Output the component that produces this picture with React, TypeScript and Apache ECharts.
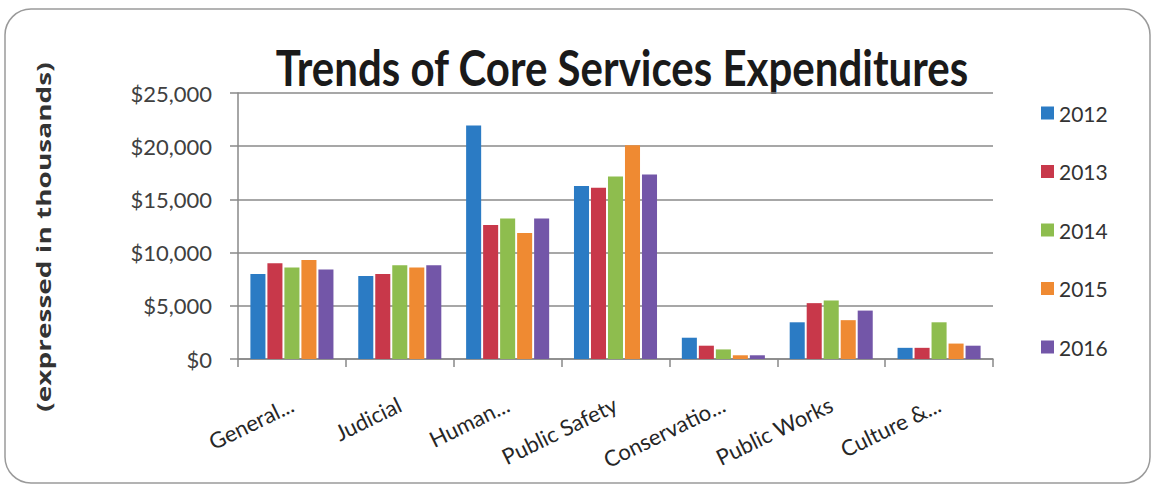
import React, { useEffect, useRef } from "react";
import * as echarts from "echarts";

const categories = [
  "General...",
  "Judicial",
  "Human...",
  "Public Safety",
  "Conservatio...",
  "Public Works",
  "Culture &...",
];
const years = ["2012", "2013", "2014", "2015", "2016"];
const s2012 = [8000, 7800, 21950, 16250, 2000, 3450, 1050];
const s2013 = [9000, 8000, 12600, 16100, 1250, 5250, 1050];
const s2014 = [8600, 8800, 13200, 17150, 900, 5500, 3450];
const s2015 = [9300, 8600, 11850, 20100, 350, 3650, 1450];
const s2016 = [8400, 8800, 13200, 17350, 350, 4550, 1250];
const seriesValues = [s2012, s2013, s2014, s2015, s2016];
const colors = ["#2b7bc4", "#c8384a", "#8ebd4e", "#ef8a32", "#7356a8"];
const yTicks = { min: 0, max: 25000, interval: 5000 };

const fmt = (v: number) =>
  "$" + String(v).replace(/\B(?=(\d{3})+(?!\d))/g, ",");

export default function App() {
  const ref = useRef<HTMLDivElement>(null);
  useEffect(() => {
    document.body.style.margin = "0";
    if (!ref.current) return;
    const chart = echarts.init(ref.current, null, { renderer: "svg" });
    chart.setOption({
      animation: false,
      backgroundColor: "#ffffff",
      color: colors,
      graphic: [
        {
          type: "rect",
          shape: { x: 5, y: 9, width: 1145, height: 474, r: 26 },
          style: { fill: "none", stroke: "#9a9a9a", lineWidth: 1.5 },
          silent: true,
        },
        {
          type: "text",
          x: 622,
          y: 66,
          scaleY: 1.2,
          style: {
            text: "Trends of Core Services Expenditures",
            fontFamily: "Lato",
            fontWeight: "bold",
            fontSize: 42,
            fill: "#1a1a1a",
            textAlign: "center",
            textVerticalAlign: "middle",
          },
        },
        {
          type: "text",
          x: 43,
          y: 237,
          rotation: Math.PI / 2,
          scaleX: 1.4,
          style: {
            text: "(expressed in thousands)",
            fontFamily: "Open Sans",
            fontWeight: "bold",
            fontSize: 20,
            fill: "#333333",
            textAlign: "center",
            textVerticalAlign: "middle",
          },
        },
      ],
      legend: {
        orient: "vertical",
        left: 1036,
        top: 96,
        itemWidth: 13,
        itemHeight: 13,
        itemGap: 34.5,
        icon: "rect",
        data: years,
        textStyle: {
          fontFamily: "Lato",
          fontSize: 21,
          color: "#333333",
          lineHeight: 24,
        },
      },
      grid: { left: 238, right: 162, top: 93, bottom: 134 },
      xAxis: {
        type: "category",
        data: categories,
        axisLine: { lineStyle: { color: "#888888", width: 1.5 } },
        axisTick: { show: true, length: 8, lineStyle: { color: "#888888", width: 1.5 } },
        axisLabel: {
          interval: 0,
          rotate: 26,
          margin: 44,
          fontFamily: "Lato",
          fontSize: 22,
          color: "#262626",
        },
      },
      yAxis: {
        type: "value",
        min: yTicks.min,
        max: yTicks.max,
        interval: yTicks.interval,
        axisLine: { show: true, lineStyle: { color: "#888888", width: 1.5 } },
        axisTick: { show: true, length: 8, lineStyle: { color: "#888888", width: 1.5 } },
        splitLine: { lineStyle: { color: "#8a8a8a", width: 1.5 } },
        axisLabel: {
          margin: 26,
          fontFamily: "Lato",
          fontSize: 22,
          color: "#404040",
          formatter: (v: number) => fmt(v),
        },
      },
      series: years.map((y, i) => ({
        name: y,
        type: "bar",
        data: seriesValues[i],
        barGap: "13%",
        barCategoryGap: "23%",
        itemStyle: { color: colors[i] },
      })),
    });
    return () => chart.dispose();
  }, []);
  return <div ref={ref} style={{ width: 1155, height: 493 }} />;
}
